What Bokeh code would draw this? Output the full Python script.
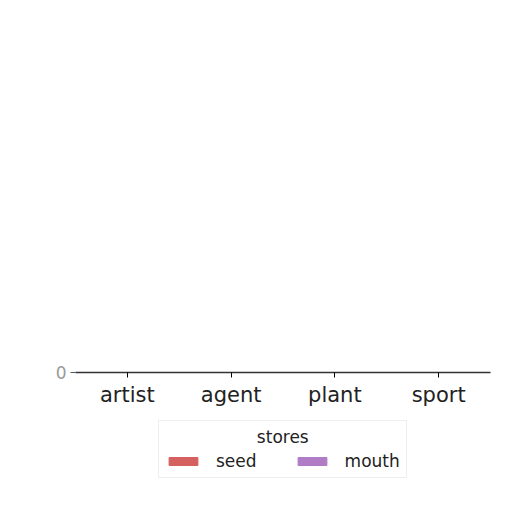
from bokeh.plotting import figure
from bokeh.layouts import column
from bokeh.models import FactorRange, Range1d, FixedTicker, Legend, LegendItem
from bokeh.transform import dodge
from bokeh.embed import file_html
from bokeh.resources import INLINE

categories = ["artist", "agent", "plant", "sport"]
seed = [0, 0, 0, 0]
mouth = [0, 0, 0, 0]
series_names = ["seed", "mouth"]
colors = ["#d46060", "#b07cc6"]
FONT = "DejaVu Sans"

p = figure(width=500, height=410, output_backend="svg", toolbar_location=None,
           x_range=FactorRange(*categories, range_padding=0),
           y_range=Range1d(0, 1),
           min_border_left=75, min_border_right=10, min_border_top=10,
           min_border_bottom=38)

data = dict(cat=categories, seed=seed, mouth=mouth)
p.vbar(x=dodge("cat", -0.2, range=p.x_range), top="seed", width=0.38,
       source=data, color=colors[0])
p.vbar(x=dodge("cat", 0.2, range=p.x_range), top="mouth", width=0.38,
       source=data, color=colors[1])

p.outline_line_color = None
p.xgrid.grid_line_color = None
p.ygrid.grid_line_color = None

p.yaxis.ticker = FixedTicker(ticks=[0])
p.yaxis.axis_line_color = None
p.yaxis.minor_tick_line_color = None
p.yaxis.major_tick_in = 0
p.yaxis.major_tick_out = 5
p.yaxis.major_tick_line_color = "#555555"
p.yaxis.major_label_text_font = FONT
p.yaxis.major_label_text_font_size = "17px"
p.yaxis.major_label_text_color = "#999999"
p.yaxis.major_label_standoff = 4

p.xaxis.axis_line_color = "#333333"
p.xaxis.axis_line_width = 1.5
p.xaxis.major_tick_in = 0
p.xaxis.major_tick_out = 5
p.xaxis.major_label_text_font = FONT
p.xaxis.major_label_text_font_size = "21px"
p.xaxis.major_label_text_color = "#222222"
p.xaxis.major_label_standoff = 5

# legend panel below the chart (key renderers hold no drawable data)
lg = figure(width=500, height=90, output_backend="svg", toolbar_location=None,
            x_range=Range1d(0, 1), y_range=Range1d(0, 1),
            x_axis_type=None, y_axis_type=None, min_border=0)
lg.outline_line_color = None
lg.xgrid.grid_line_color = None
lg.ygrid.grid_line_color = None
nan = float("nan")
key = dict(x=[nan], top=[nan])
k1 = lg.vbar(x="x", top="top", width=0.1, source=dict(key), color=colors[0])
k2 = lg.vbar(x="x", top="top", width=0.1, source=dict(key), color=colors[1])

legend = Legend(items=[LegendItem(label=series_names[0], renderers=[k1]),
                       LegendItem(label=series_names[1], renderers=[k2])],
                orientation="horizontal", location=(83, 22),
                title="\u00a0" * 17 + "stores",
                title_text_font=FONT, title_text_font_size="17px",
                title_text_font_style="normal", title_text_color="#222222",
                title_standoff=4,
                label_text_font=FONT, label_text_font_size="17px",
                label_text_color="#222222", label_height=18,
                glyph_width=36, glyph_height=10, label_standoff=15,
                spacing=37, padding=6, margin=0,
                border_line_color="#dddddd", border_line_width=1,
                background_fill_alpha=1.0)
lg.add_layout(legend, "center")

layout = column(p, lg)
open("out.html", "w").write(file_html(layout, INLINE))
